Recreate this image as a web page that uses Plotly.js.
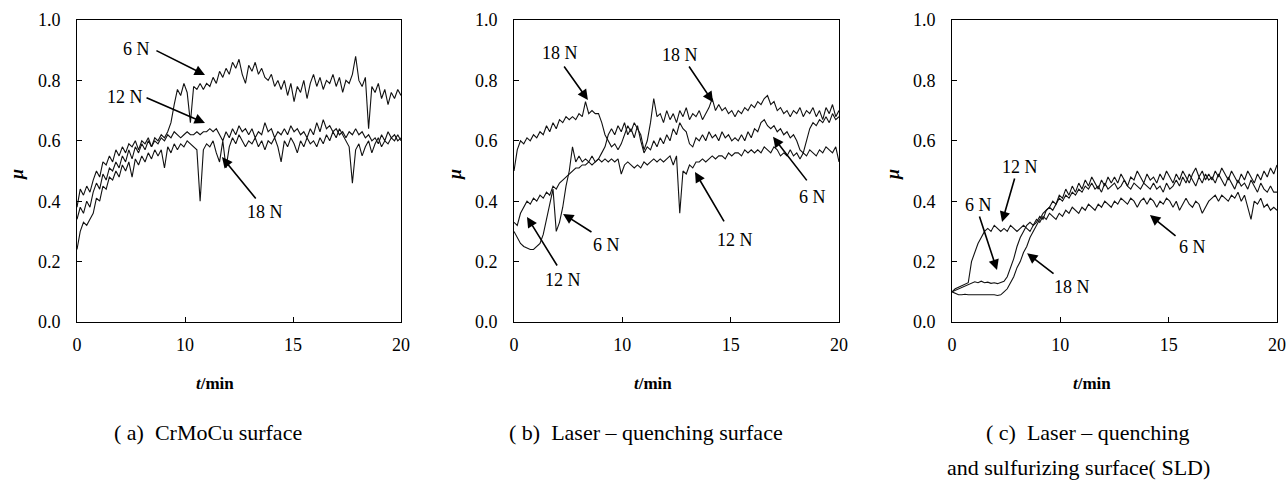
<!DOCTYPE html>
<html>
<head>
<meta charset="utf-8">
<script src="https://cdn.plot.ly/plotly-3.0.1.min.js"></script>
<style>html,body{margin:0;padding:0;background:#fff}#chart{width:1287px;height:481px}</style>
</head>
<body>
<div id="chart"></div>
<script>
// time samples (axis units 0..20)
const t = [0,0.2,0.4,0.6,0.8,1,1.2,1.4,1.6,1.8,2,2.2,2.4,2.6,2.8,3,3.2,3.4,3.6,3.8,4,4.2,4.4,4.6,4.8,5,5.2,5.4,5.6,5.8,6,6.2,6.4,6.6,6.8,7,7.2,7.4,7.6,7.8,8,8.2,8.4,8.6,8.8,9,9.2,9.4,9.6,9.8,10,10.2,10.4,10.6,10.8,11,11.2,11.4,11.6,11.8,12,12.2,12.4,12.6,12.8,13,13.2,13.4,13.6,13.8,14,14.2,14.4,14.6,14.8,15,15.2,15.4,15.6,15.8,16,16.2,16.4,16.6,16.8,17,17.2,17.4,17.6,17.8,18,18.2,18.4,18.6,18.8,19,19.2,19.4,19.6,19.8,20];

// tick labels as printed
const xTickVals = [0, 20/3, 40/3, 20];
const xTickText = ['0', '10', '15', '20'];

// (a) CrMoCu surface
const a6 = [0.38,0.44,0.42,0.45,0.43,0.47,0.50,0.48,0.53,0.52,
  0.55,0.53,0.57,0.55,0.58,0.56,0.59,0.58,0.60,0.57,
  0.60,0.59,0.61,0.58,0.61,0.60,0.62,0.61,0.63,0.66,
  0.72,0.77,0.75,0.79,0.76,0.66,0.78,0.77,0.79,0.77,
  0.79,0.78,0.81,0.79,0.83,0.81,0.84,0.82,0.86,0.84,
  0.87,0.82,0.79,0.85,0.83,0.86,0.82,0.84,0.81,0.80,
  0.82,0.78,0.80,0.77,0.80,0.75,0.79,0.73,0.78,0.76,
  0.80,0.74,0.79,0.82,0.78,0.81,0.77,0.80,0.79,0.82,
  0.78,0.81,0.76,0.80,0.79,0.82,0.88,0.80,0.78,0.81,
  0.64,0.78,0.76,0.79,0.74,0.77,0.72,0.76,0.74,0.77,
  0.75];
const a12 = [0.34,0.38,0.36,0.40,0.38,0.43,0.46,0.44,0.49,0.47,
  0.51,0.50,0.53,0.51,0.55,0.53,0.57,0.54,0.58,0.56,
  0.59,0.57,0.60,0.58,0.60,0.59,0.61,0.60,0.62,0.61,
  0.63,0.62,0.61,0.62,0.63,0.62,0.62,0.63,0.62,0.63,
  0.63,0.64,0.63,0.64,0.62,0.60,0.63,0.61,0.64,0.62,
  0.65,0.63,0.64,0.62,0.64,0.61,0.63,0.62,0.66,0.63,
  0.64,0.61,0.63,0.62,0.64,0.62,0.65,0.63,0.64,0.62,
  0.63,0.61,0.64,0.62,0.66,0.63,0.67,0.64,0.65,0.63,
  0.64,0.62,0.63,0.61,0.63,0.62,0.64,0.62,0.63,0.61,
  0.62,0.60,0.61,0.59,0.62,0.60,0.63,0.61,0.62,0.60,
  0.61];
const a18 = [0.24,0.30,0.33,0.32,0.34,0.36,0.41,0.40,0.45,0.44,
  0.48,0.47,0.50,0.48,0.52,0.50,0.53,0.48,0.54,0.52,
  0.55,0.53,0.56,0.54,0.57,0.55,0.57,0.51,0.58,0.56,
  0.59,0.57,0.59,0.58,0.60,0.59,0.58,0.57,0.40,0.57,
  0.59,0.58,0.60,0.56,0.53,0.60,0.51,0.58,0.61,0.59,
  0.62,0.60,0.58,0.60,0.59,0.61,0.58,0.60,0.57,0.60,
  0.59,0.61,0.58,0.53,0.60,0.58,0.61,0.59,0.56,0.60,
  0.58,0.61,0.59,0.60,0.58,0.61,0.59,0.62,0.60,0.63,
  0.61,0.64,0.62,0.60,0.58,0.46,0.57,0.59,0.55,0.58,
  0.60,0.56,0.59,0.61,0.58,0.60,0.59,0.61,0.60,0.62,
  0.60];

// (b) Laser-quenching surface
const b18 = [0.50,0.57,0.60,0.59,0.61,0.60,0.62,0.61,0.63,0.62,
  0.65,0.63,0.66,0.64,0.67,0.66,0.68,0.67,0.68,0.67,
  0.69,0.68,0.73,0.69,0.70,0.69,0.69,0.66,0.62,0.60,
  0.58,0.59,0.57,0.59,0.62,0.65,0.63,0.66,0.64,0.62,
  0.57,0.60,0.66,0.74,0.68,0.69,0.66,0.70,0.67,0.69,
  0.66,0.70,0.68,0.71,0.67,0.69,0.68,0.70,0.67,0.69,
  0.71,0.74,0.70,0.72,0.70,0.71,0.69,0.70,0.68,0.70,
  0.69,0.71,0.70,0.72,0.71,0.73,0.72,0.74,0.75,0.72,
  0.73,0.70,0.71,0.69,0.70,0.68,0.70,0.69,0.71,0.68,
  0.70,0.69,0.71,0.68,0.70,0.67,0.71,0.69,0.72,0.68,
  0.70];
const b6 = [0.30,0.28,0.26,0.25,0.245,0.24,0.24,0.25,0.26,0.29,
  0.34,0.40,0.44,0.30,0.33,0.38,0.45,0.50,0.58,0.53,
  0.55,0.53,0.54,0.53,0.55,0.53,0.54,0.56,0.58,0.62,
  0.64,0.62,0.65,0.63,0.66,0.62,0.64,0.61,0.65,0.60,
  0.56,0.58,0.57,0.60,0.58,0.61,0.59,0.62,0.60,0.64,
  0.62,0.66,0.64,0.63,0.59,0.58,0.61,0.60,0.62,0.60,
  0.63,0.61,0.62,0.60,0.63,0.61,0.62,0.60,0.61,0.60,
  0.62,0.60,0.63,0.61,0.64,0.63,0.66,0.67,0.65,0.64,
  0.65,0.63,0.64,0.62,0.63,0.61,0.62,0.60,0.57,0.56,
  0.60,0.64,0.66,0.65,0.67,0.66,0.68,0.66,0.69,0.67,
  0.68];
const b12 = [0.33,0.32,0.36,0.38,0.40,0.39,0.41,0.40,0.42,0.41,
  0.43,0.42,0.45,0.44,0.46,0.47,0.48,0.49,0.50,0.51,
  0.51,0.52,0.52,0.53,0.52,0.53,0.54,0.53,0.54,0.53,
  0.54,0.53,0.54,0.49,0.52,0.53,0.52,0.51,0.52,0.51,
  0.53,0.52,0.53,0.54,0.53,0.54,0.53,0.54,0.55,0.52,
  0.55,0.36,0.50,0.49,0.52,0.51,0.53,0.53,0.54,0.53,
  0.54,0.55,0.54,0.55,0.55,0.54,0.56,0.55,0.56,0.56,
  0.55,0.57,0.56,0.57,0.56,0.57,0.56,0.58,0.57,0.56,
  0.58,0.57,0.55,0.56,0.55,0.57,0.55,0.56,0.54,0.56,
  0.55,0.57,0.56,0.55,0.57,0.56,0.58,0.57,0.56,0.58,
  0.53];

// (c) Laser-quenching and sulfurizing surface (SLD)
const c18 = [0.10,0.095,0.09,0.09,0.092,0.09,0.09,0.091,0.09,0.09,
  0.09,0.092,0.09,0.09,0.088,0.09,0.10,0.11,0.13,0.15,
  0.18,0.20,0.23,0.25,0.28,0.30,0.32,0.34,0.36,0.37,
  0.38,0.37,0.39,0.41,0.40,0.42,0.41,0.43,0.42,0.44,
  0.43,0.45,0.44,0.46,0.44,0.45,0.43,0.46,0.44,0.45,
  0.46,0.44,0.45,0.47,0.45,0.44,0.46,0.45,0.44,0.46,
  0.45,0.44,0.46,0.44,0.45,0.43,0.46,0.44,0.45,0.47,
  0.45,0.48,0.46,0.49,0.47,0.45,0.48,0.46,0.49,0.47,
  0.48,0.46,0.49,0.47,0.45,0.48,0.46,0.44,0.47,0.45,
  0.46,0.44,0.47,0.45,0.43,0.46,0.44,0.43,0.45,0.43,
  0.43];
const c6 = [0.10,0.105,0.11,0.115,0.12,0.125,0.13,0.133,0.13,0.135,
  0.13,0.132,0.128,0.13,0.127,0.13,0.135,0.15,0.18,0.21,
  0.25,0.28,0.30,0.32,0.33,0.32,0.34,0.33,0.35,0.34,
  0.36,0.35,0.34,0.36,0.35,0.37,0.36,0.38,0.37,0.36,
  0.38,0.37,0.39,0.38,0.37,0.39,0.38,0.40,0.39,0.38,
  0.40,0.39,0.41,0.40,0.39,0.41,0.40,0.38,0.40,0.41,
  0.39,0.41,0.40,0.38,0.40,0.39,0.41,0.40,0.38,0.40,
  0.37,0.39,0.41,0.39,0.38,0.40,0.39,0.36,0.38,0.40,
  0.41,0.42,0.40,0.42,0.41,0.40,0.42,0.41,0.43,0.40,
  0.42,0.38,0.34,0.40,0.39,0.41,0.38,0.39,0.37,0.38,
  0.37];
const c12 = [0.10,0.11,0.115,0.12,0.125,0.13,0.20,0.23,0.26,0.28,
  0.30,0.31,0.30,0.32,0.31,0.30,0.31,0.30,0.32,0.31,
  0.30,0.31,0.32,0.31,0.30,0.32,0.33,0.35,0.34,0.37,
  0.38,0.40,0.39,0.42,0.41,0.44,0.42,0.45,0.43,0.46,
  0.44,0.47,0.45,0.48,0.46,0.44,0.47,0.45,0.48,0.46,
  0.48,0.46,0.49,0.47,0.45,0.48,0.47,0.50,0.48,0.46,
  0.49,0.47,0.48,0.46,0.49,0.47,0.50,0.48,0.46,0.49,
  0.47,0.50,0.48,0.46,0.49,0.51,0.48,0.50,0.47,0.49,
  0.47,0.50,0.48,0.51,0.49,0.47,0.50,0.48,0.46,0.49,
  0.47,0.50,0.48,0.46,0.49,0.47,0.50,0.48,0.51,0.49,
  0.52];

const captions = [
  {text: '( a)  CrMoCu surface', px: 208, py: 432},
  {text: '( b)  Laser – quenching surface', px: 646, py: 432},
  {text: '( c)  Laser – quenching', px: 1087, py: 432},
  {text: 'and sulfurizing surface( SLD)', px: 1078, py: 467}
];

const W = 1287, H = 481;
const SERIF = 'Liberation Serif';
const lineStyle = {color: '#111', width: 1.1};

function tr(y, ax) {
  return {x: t, y: y, type: 'scatter', mode: 'lines', line: lineStyle,
    xaxis: 'x' + ax, yaxis: 'y' + ax, hoverinfo: 'skip', showlegend: false};
}
const data = [
  tr(a6, ''), tr(a12, ''), tr(a18, ''),
  tr(b18, '2'), tr(b6, '2'), tr(b12, '2'),
  tr(c18, '3'), tr(c6, '3'), tr(c12, '3')
];

const yDom = [1 - 322 / H, 1 - 20 / H];
function xax(l, r, anchor) {
  return {domain: [l / W, r / W], anchor: anchor, range: [0, 20],
    tickmode: 'array', tickvals: xTickVals, ticktext: xTickText,
    ticks: 'inside', ticklen: 5, tickwidth: 1, tickcolor: '#000',
    showline: true, linecolor: '#000', linewidth: 1, mirror: true,
    showgrid: false, zeroline: false, ticklabelstandoff: 6,
    tickfont: {family: SERIF, size: 18, color: '#000'}, fixedrange: true};
}
function yax(anchor) {
  return {domain: yDom, anchor: anchor, range: [0, 1],
    tickmode: 'linear', tick0: 0, dtick: 0.2, tickformat: '.1f',
    ticks: 'inside', ticklen: 5, tickwidth: 1, tickcolor: '#000',
    showline: true, linecolor: '#000', linewidth: 1, mirror: true,
    showgrid: false, zeroline: false, ticklabelstandoff: 12,
    tickfont: {family: SERIF, size: 18, color: '#000'}, fixedrange: true};
}

const ann = [];
function paperText(text, px, py, size, extra) {
  ann.push(Object.assign({xref: 'paper', yref: 'paper', x: px / W, y: 1 - py / H,
    text: text, showarrow: false, xanchor: 'center', yanchor: 'middle',
    font: {family: SERIF, size: size, color: '#000'}}, extra || {}));
}
captions.forEach(c => paperText(c.text, c.px, c.py, 22));
[215, 653, 1092].forEach(px => paperText('<b><i>t</i>/min</b>', px, 383, 17));
[17, 455, 893].forEach(px => paperText('<b><i>μ</i></b>', px, 175, 18, {textangle: -90}));

// curve labels: [axis, text, textT, textMu, tailT, tailMu, tipT, tipMu]
const labels = [
  ['', '6 N', 3.70, 0.904, 4.81, 0.901, 7.90, 0.818],
  ['', '12 N', 2.96, 0.745, 4.20, 0.745, 7.90, 0.659],
  ['', '18 N', 11.6, 0.364, 11.11, 0.404, 8.95, 0.546],
  ['2', '18 N', 2.83, 0.891, 3.02, 0.851, 4.55, 0.735],
  ['2', '18 N', 10.22, 0.884, 10.71, 0.851, 12.25, 0.728],
  ['2', '6 N', 18.34, 0.414, 18.09, 0.464, 15.94, 0.613],
  ['2', '12 N', 13.6, 0.272, 12.98, 0.328, 11.14, 0.497],
  ['2', '6 N', 5.72, 0.255, 4.86, 0.295, 3.02, 0.358],
  ['2', '12 N', 3.02, 0.139, 2.71, 0.182, 0.80, 0.348],
  ['3', '12 N', 4.18, 0.513, 3.88, 0.480, 3.08, 0.331],
  ['3', '6 N', 1.66, 0.387, 1.66, 0.354, 2.77, 0.172],
  ['3', '18 N', 7.38, 0.116, 6.34, 0.156, 4.62, 0.228],
  ['3', '6 N', 14.77, 0.248, 13.85, 0.281, 12.18, 0.354]
];
labels.forEach(l => {
  const xr = 'x' + l[0], yr = 'y' + l[0];
  ann.push({xref: xr, yref: yr, x: l[2], y: l[3], text: l[1], showarrow: false,
    xanchor: 'center', yanchor: 'middle', font: {family: SERIF, size: 18, color: '#000'}});
  ann.push({xref: xr, yref: yr, axref: xr, ayref: yr, x: l[6], y: l[7], ax: l[4], ay: l[5],
    text: '', showarrow: true, arrowhead: 2, arrowsize: 1.3, arrowwidth: 1.6,
    arrowcolor: '#000', standoff: 0, startstandoff: 0, font: {size: 1}});
});

const layout = {
  width: W, height: H, margin: {l: 0, r: 0, t: 0, b: 0},
  paper_bgcolor: '#fff', plot_bgcolor: '#fff', showlegend: false,
  xaxis: xax(77, 401, 'y'), yaxis: yax('x'),
  xaxis2: xax(514, 839, 'y2'), yaxis2: yax('x2'),
  xaxis3: xax(952, 1277, 'y3'), yaxis3: yax('x3'),
  annotations: ann
};
Plotly.newPlot('chart', data, layout, {displayModeBar: false, staticPlot: true});
</script>
</body>
</html>
